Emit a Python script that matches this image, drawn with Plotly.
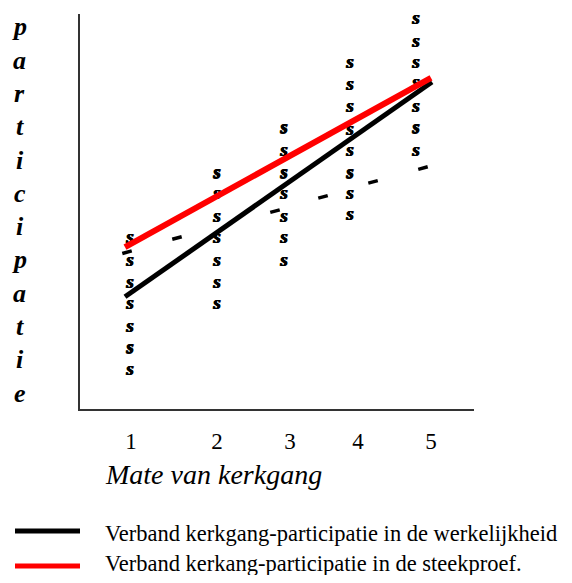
import plotly.graph_objects as go

# ---- data (x: mate van kerkgang, y: participatie score 0-100) ----
col_x = [0.987, 2.147, 3.04, 3.92, 4.8]
col_y = [
    [43.3, 37.5, 31.9, 26.6, 20.8, 15.4, 9.9],
    [59.7, 54.4, 48.6, 43.3, 37.5, 31.9, 26.6],
    [71.1, 65.3, 59.7, 54.4, 48.6, 43.3, 37.5],
    [87.6, 82.0, 76.5, 70.6, 65.3, 59.7, 54.4, 49.1],
    [98.7, 92.9, 87.6, 82.5, 76.5, 71.1, 65.3],
]
sample_x = [0.947, 1.613, 2.92, 3.56, 4.227, 4.893]
sample_y = [39.7, 43.3, 50.1, 53.7, 57.5, 61.0]

real_x = [0.92, 5.013]
real_y = [28.4, 82.8]
steek_x = [0.92, 5.0]
steek_y = [41.0, 83.8]

tick_vals = [1, 2.147, 3.12, 4.027, 5]
tick_text = ["1", "2", "3", "4", "5"]

y_title = "participatie"
x_title = "Mate van kerkgang"
legend_labels = [
    "Verband kerkgang-participatie in de werkelijkheid",
    "Verband kerkang-participatie in de steekproef.",
]

# ---- figure (page has an 8px body margin) ----
OFF = 8
W, H = 572 - OFF, 583 - 2 * OFF
L, T = 80 - OFF, 14 - OFF
PW, PH = 394, 395
R, B = W - L - PW, H - T - PH

def px(xp):  # reference page pixel -> paper
    return (xp - 80) / PW

def py(yp):
    return (409 - yp) / PH

SERIF = "Liberation Serif, Times New Roman, serif"

fig = go.Figure()

xs, ys = [], []
for cx, cys in zip(col_x, col_y):
    for v in cys:
        xs.append(cx)
        ys.append(v)

fig.add_trace(go.Scatter(
    x=xs, y=ys, mode="text", text=["s"] * len(xs),
    textposition="middle center", cliponaxis=False,
    textfont=dict(family=SERIF, size=19, color="black", weight="bold",
                  style="italic",
                  shadow="0.6px 0 0 black, -0.6px 0 0 black, 0 0.6px 0 black"),
    hoverinfo="skip", showlegend=False,
))

fig.add_trace(go.Scatter(
    x=sample_x, y=sample_y, mode="markers", cliponaxis=False,
    marker=dict(symbol="line-ew", size=7, angle=-15,
                line=dict(width=3.5, color="black")),
    hoverinfo="skip", showlegend=False,
))

fig.add_trace(go.Scatter(
    x=real_x, y=real_y, mode="lines",
    line=dict(color="black", width=5), showlegend=False,
))
fig.add_trace(go.Scatter(
    x=steek_x, y=steek_y, mode="lines",
    line=dict(color="#ff0000", width=6), showlegend=False,
))

x0 = 1 - 51 / 75
x1 = x0 + PW / 75
fig.update_xaxes(
    range=[x0, x1], showgrid=False, zeroline=False,
    showline=True, linecolor="#333333", linewidth=2,
    tickvals=tick_vals, ticktext=tick_text, ticks="",
    tickfont=dict(family=SERIF, size=23, color="black"),
    ticklabelstandoff=10,
)
fig.update_yaxes(
    range=[0, 100], showgrid=False, zeroline=False,
    showline=True, linecolor="#333333", linewidth=2,
    showticklabels=False, ticks="",
)

annotations = []
# vertical y-axis title, one letter per line
n = len(y_title)
for i, ch in enumerate(y_title):
    yc = 27 + i * (393 - 27) / (n - 1)
    annotations.append(dict(
        x=px(20), y=py(yc), xref="paper", yref="paper",
        text=f"<b><i>{ch}</i></b>", showarrow=False,
        xanchor="center", yanchor="middle",
        font=dict(family=SERIF, size=26, color="black"),
    ))

annotations.append(dict(
    x=px(103), y=py(474), xref="paper", yref="paper",
    text=f"<i>{x_title}</i>", showarrow=False,
    xanchor="left", yanchor="middle",
    font=dict(family=SERIF, size=28, color="black"),
))

legend_colors = ["black", "#ff0000"]
legend_line_y = [531, 566]
legend_text_y = [533, 563]
shapes = []
for lab, col, ly, ty in zip(legend_labels, legend_colors, legend_line_y, legend_text_y):
    shapes.append(dict(
        type="line", xref="paper", yref="paper",
        x0=px(15), x1=px(80), y0=py(ly), y1=py(ly),
        line=dict(color=col, width=5),
    ))
    annotations.append(dict(
        x=px(103), y=py(ty), xref="paper", yref="paper",
        text=lab, showarrow=False, xanchor="left", yanchor="middle",
        font=dict(family=SERIF, size=22.5, color="black"),
    ))

fig.update_layout(
    width=W, height=H,
    margin=dict(l=L, r=R, t=T, b=B, pad=0),
    paper_bgcolor="white", plot_bgcolor="white",
    annotations=annotations, shapes=shapes,
    showlegend=False,
)

fig.write_html("out.html")
